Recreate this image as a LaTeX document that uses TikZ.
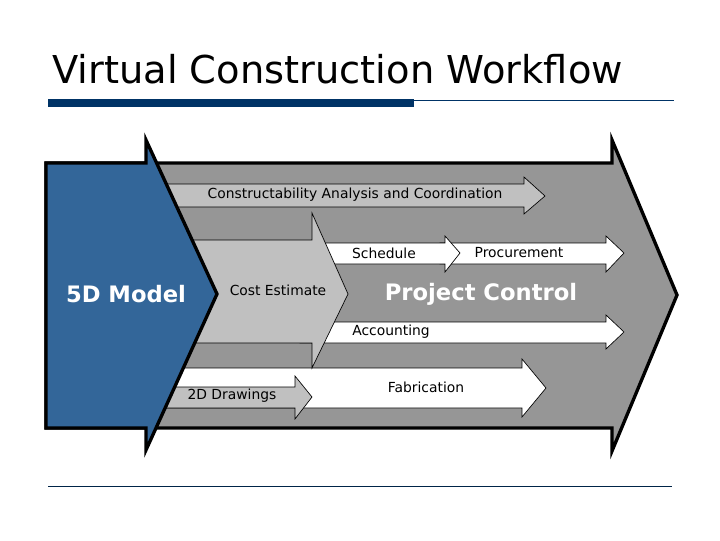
\documentclass[tikz,border=0pt]{standalone}
\usepackage{fontspec}
\setmainfont{DejaVu Sans}
\begin{document}
\begin{tikzpicture}[x=0.75pt,y=-0.75pt,
  lbl/.style={font=\fontsize{10.4}{12}\selectfont,inner sep=0pt},
  big/.style={font=\fontsize{17}{19}\selectfont\bfseries,text=white,inner sep=0pt},
  thin/.style={draw=black,line width=0.5pt,line join=miter}]
\definecolor{bluem}{HTML}{336699}
\definecolor{darkg}{HTML}{969696}
\definecolor{lightg}{HTML}{C0C0C0}
\definecolor{barblue}{HTML}{003366}
\useasboundingbox (0,0) rectangle (720,540);
% title
\node[anchor=base west,inner sep=0pt,font=\fontsize{28.8}{32}\selectfont] (title) at (52,83) {Virtual Construction Workflow};
\fill[barblue] (48,99) rectangle (414,107);
\coordinate (l1) at (414,100); \coordinate (l2) at (674,100);
\draw[barblue,line width=0.6pt] (l1) -- (l2);
\coordinate (b1) at (48,486); \coordinate (b2) at (672,486);
\draw[barblue!70!black,line width=0.6pt] (b1) -- (b2);
% big gray arrow
\draw[fill=darkg,line width=2.5pt,line join=miter] (46,163) -- (612,163) -- (612,140) -- (677,295) -- (612,451) -- (612,428) -- (46,428) -- cycle;
% constructability
\draw[thin,fill=lightg] (150,184) -- (524,184) -- (524,177) -- (545,196) -- (524,214) -- (524,207) -- (150,207) -- cycle;
% fabrication
\draw[thin,fill=white] (150,368) -- (522,368) -- (522,359) -- (546,388) -- (522,417) -- (522,408) -- (150,408) -- cycle;
% 2D drawings
\draw[thin,fill=lightg] (150,387) -- (295,387) -- (295,376) -- (312,397) -- (295,419) -- (295,408) -- (150,408) -- cycle;
% procurement
\draw[thin,fill=white] (440,243) -- (606,243) -- (606,236) -- (624,253) -- (606,272) -- (606,264) -- (440,264) -- cycle;
% schedule
\draw[thin,fill=white] (300,243) -- (445,243) -- (445,236) -- (460,253) -- (445,272) -- (445,264) -- (300,264) -- cycle;
% accounting
\draw[thin,fill=white] (300,322) -- (606,322) -- (606,315) -- (624,332) -- (606,349) -- (606,343) -- (300,343) -- cycle;
% cost estimate
\draw[thin,fill=lightg] (150,240) -- (312,240) -- (312,213) -- (348,294) -- (312,368) -- (312,343) -- (150,343) -- cycle;
% blue arrow
\draw[fill=bluem,line width=2.5pt,line join=miter] (46,163) -- (146,163) -- (146,140) -- (217,294) -- (146,450) -- (146,428) -- (46,428) -- cycle;
% labels
\node[lbl] (con) at (355,195) {Constructability Analysis and Coordination};
\node[lbl] (sch) at (384,253) {Schedule};
\node[lbl] (pro) at (519,253) {Procurement};
\node[lbl] (cost) at (278,290) {Cost Estimate};
\node[lbl] (acc) at (391,332) {Accounting};
\node[lbl] (fab) at (426,387) {Fabrication};
\node[lbl] (dr) at (232,396) {2D Drawings};
\node[big] (pc) at (481,294) {Project Control};
\node[big] (m5) at (126,294) {5D Model};
\end{tikzpicture}
\end{document}
